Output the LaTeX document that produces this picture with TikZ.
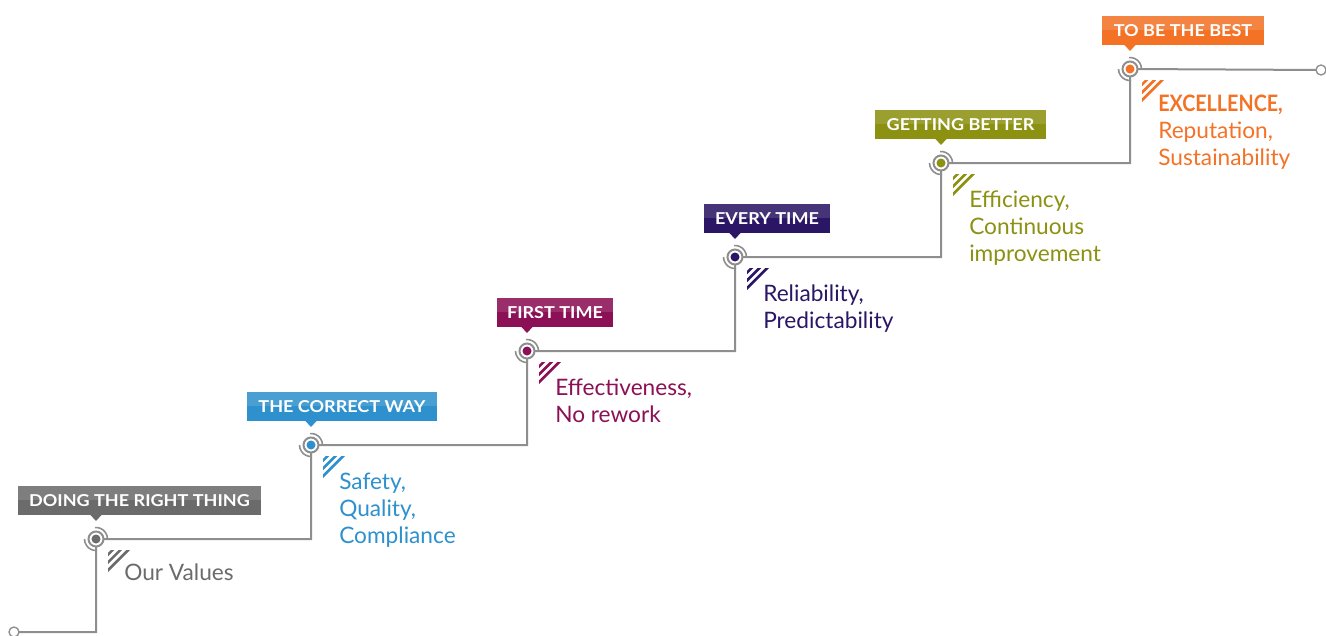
\documentclass[tikz,border=0pt]{standalone}
\usepackage{graphicx}
\usepackage{fontspec}
\setmainfont{Lato}
\newfontfamily\titlefont[FakeStretch=1.10]{Lato}
\definecolor{linegray}{HTML}{8E8E8E}
\definecolor{cgray}{HTML}{6B6B6B}
\definecolor{cblue}{HTML}{2E90CC}
\definecolor{cmag}{HTML}{8C1056}
\definecolor{cnavy}{HTML}{2A1665}
\definecolor{colive}{HTML}{8C9112}
\definecolor{corange}{HTML}{F37226}
\begin{document}
\begin{tikzpicture}[x=0.75pt,y=-0.75pt,
  conn/.style={draw=linegray,line width=1.5pt},
  ring/.style={draw=linegray,line width=1.5pt,fill=white},
  arcst/.style={draw=linegray,line width=1.2pt},
  hatch/.style={line width=1.95pt},
  endpt/.style={draw=linegray,line width=1pt,fill=white},
  title/.style={text=white,font=\titlefont\bfseries\fontsize{12.3}{14}\selectfont,inner sep=0},
  desc/.style={anchor=base west,inner sep=0,font=\fontsize{17}{20.25}\selectfont,align=left}]
\useasboundingbox (0,0) rectangle (1326,635);
\newcommand\milestone[9]{%
  \coordinate (#1) at (#2,#3);
  \fill[#4] (#5,#3-53) rectangle (#6,#3-24);
  \fill[white,opacity=0.13] (#5,#3-53) rectangle (#6,#3-39);
  \fill[#4] (#2-6,#3-24.5) -- (#2+6,#3-24.5) -- (#2,#3-18) -- cycle;
  \node[title] (#1t) at ({(#5+#6)/2},#3-38.5) {#7};
  \begin{scope}
    \clip ([shift={(12,11)}]#1) -- ([shift={(34,11)}]#1) -- ([shift={(12,33)}]#1) -- cycle;
    \foreach \hc in {43.2,35.4,27.6}
      \draw[hatch,#4] ([shift={(\hc-5,5)}]#1) -- ([shift={(\hc-40,40)}]#1);
  \end{scope}
  \node[desc,text=#4] (#1d) at (#2+28,#3+#9) {#8};
}
\milestone{m1}{96}{539}{cgray}{18}{261}{DOING THE RIGHT THING}{Our Values}{41}
\milestone{m2}{311}{445}{cblue}{247}{437}{THE CORRECT WAY}{Safety,\\Quality,\\Compliance}{98}
\milestone{m3}{527}{351}{cmag}{497}{613}{FIRST TIME}{Effectiveness,\\No rework}{71}
\milestone{m4}{735}{257}{cnavy}{704}{830}{EVERY TIME}{Reliability,\\Predictability}{71}
\milestone{m5}{941}{163}{colive}{875}{1046}{GETTING BETTER}{Efficiency,\\Continuous\\improvement}{98}
\milestone{m6}{1130}{69}{corange}{1102}{1264}{TO BE THE BEST}{\scalebox{0.87}[1]{\textbf{EXCELLENCE,}}\\Reputation,\\Sustainability}{96}
\coordinate (s) at (14,632);
\coordinate (e) at (1321,70);
\draw[conn] (s) -| (m1) -| (m2) -| (m3) -| (m4) -| (m5) -| (m6) -- (e);
\draw[endpt] (s) circle (5);
\draw[endpt] (e) circle (5);
\foreach \m/\c in {m1/cgray,m2/cblue,m3/cmag,m4/cnavy,m5/colive,m6/corange}{
  \draw[ring] (\m) circle (7.5);
  \fill[\c] (\m) circle (4.5);
  \draw[arcst] ([shift={(-95:11.5)}]\m) arc (-95:0:11.5);
  \draw[arcst] ([shift={(85:11.5)}]\m) arc (85:180:11.5);
}
\end{tikzpicture}
\end{document}
